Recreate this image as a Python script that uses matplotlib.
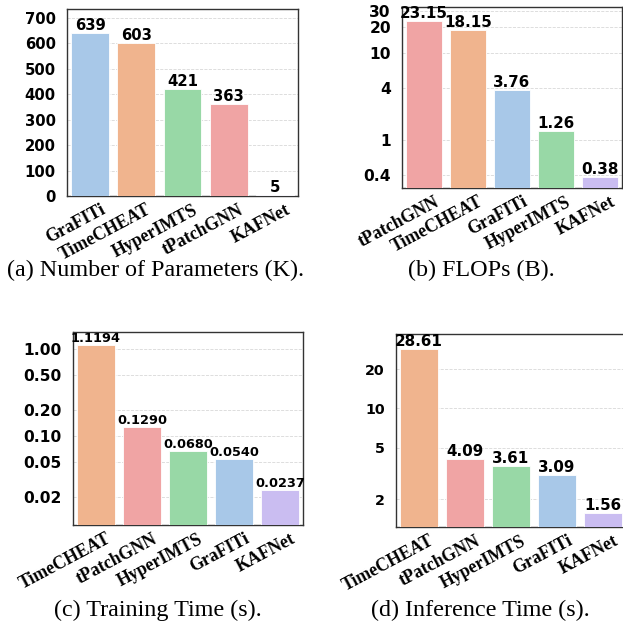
import numpy as np
import matplotlib.pyplot as plt
from matplotlib.ticker import FixedLocator, FixedFormatter, NullLocator
from matplotlib.transforms import ScaledTranslation

# model colours (same model -> same colour across panels)
colors = {
    'GraFITi': '#a8c8e8',
    'TimeCHEAT': '#f0b48e',
    'HyperIMTS': '#98d8a6',
    'tPatchGNN': '#f0a4a4',
    'KAFNet': '#cabdf1',
}

# (a) number of parameters (K)
params_models = ['GraFITi', 'TimeCHEAT', 'HyperIMTS', 'tPatchGNN', 'KAFNet']
params_values = [639, 603, 421, 363, 5]
params_labels = ['639', '603', '421', '363', '5']

# (b) FLOPs (B)
flops_models = ['tPatchGNN', 'TimeCHEAT', 'GraFITi', 'HyperIMTS', 'KAFNet']
flops_values = [23.15, 18.15, 3.76, 1.26, 0.38]
flops_labels = ['23.15', '18.15', '3.76', '1.26', '0.38']

# (c) training time (s)
train_models = ['TimeCHEAT', 'tPatchGNN', 'HyperIMTS', 'GraFITi', 'KAFNet']
train_values = [1.1194, 0.1290, 0.0680, 0.0540, 0.0237]
train_labels = ['1.1194', '0.1290', '0.0680', '0.0540', '0.0237']

# (d) inference time (s)
infer_models = ['TimeCHEAT', 'tPatchGNN', 'HyperIMTS', 'GraFITi', 'KAFNet']
infer_values = [28.61, 4.09, 3.61, 3.09, 1.56]
infer_labels = ['28.61', '4.09', '3.61', '3.09', '1.56']

W, H = 623, 639
fig = plt.figure(figsize=(W / 100, H / 100), dpi=100)


def px_axes(left, top, right, bottom):
    return fig.add_axes([left / W, 1 - bottom / H, (right - left) / W, (bottom - top) / H])


def panel(ax, models, values, labels, ylim, log, ticks, ticklabels, label_size, ytick_size):
    x = np.arange(len(models))
    ax.bar(x, values, width=0.82, color=[colors[m] for m in models],
           edgecolor='white', linewidth=0.6, zorder=3)
    for xi, v, lab in zip(x, values, labels):
        ax.text(xi, v, lab, ha='center', va='bottom', fontsize=label_size,
                fontweight='bold', family='DejaVu Sans', zorder=4)
    if log:
        ax.set_yscale('log')
    ax.set_ylim(*ylim)
    ax.set_xlim(-0.5, len(models) - 0.5)
    ax.yaxis.set_major_locator(FixedLocator(ticks))
    ax.yaxis.set_major_formatter(FixedFormatter(ticklabels))
    ax.yaxis.set_minor_locator(NullLocator())
    ax.tick_params(axis='both', length=0)
    ax.tick_params(axis='y', pad=8)
    ax.tick_params(axis='x', pad=4)
    ax.set_xticks(x)
    ax.set_xticklabels(models, rotation=28, ha='right', rotation_mode='anchor',
                       fontsize=12.8, fontweight='bold', family='Liberation Serif')
    # labels sit a little to the right of the bar centres in the original
    shift = ScaledTranslation(0.10, 0, fig.dpi_scale_trans)
    for lab in ax.get_xticklabels():
        lab.set_transform(lab.get_transform() + shift)
    for lab in ax.get_yticklabels():
        lab.set_fontweight('bold')
        lab.set_fontsize(ytick_size)
    ax.grid(axis='y', color='#d8d8d8', linestyle='--', linewidth=0.6, zorder=0)
    for s in ax.spines.values():
        s.set_color('#333333')
        s.set_linewidth(1.0)


ax_a = px_axes(67, 9, 298, 196)
panel(ax_a, params_models, params_values, params_labels, (0, 735), False,
      [0, 100, 200, 300, 400, 500, 600, 700],
      ['0', '100', '200', '300', '400', '500', '600', '700'], 10.7, 10.7)

ax_b = px_axes(402, 7, 622, 188)
panel(ax_b, flops_models, flops_values, flops_labels, (0.283, 33.5), True,
      [0.4, 1, 4, 10, 20, 30], ['0.4', '1', '4', '10', '20', '30'], 10.9, 11.2)

ax_c = px_axes(73, 332, 303, 525)
panel(ax_c, train_models, train_values, train_labels, (0.0095, 1.58), True,
      [0.02, 0.05, 0.1, 0.2, 0.5, 1.0],
      ['0.02', '0.05', '0.10', '0.20', '0.50', '1.00'], 9.3, 11.2)

ax_d = px_axes(396, 334, 626, 527)
panel(ax_d, infer_models, infer_values, infer_labels, (1.22, 37.5), True,
      [2, 5, 10, 20], ['2', '5', '10', '20'], 10.9, 10.3)

cap = dict(ha='center', va='center', fontsize=17.4, family='Liberation Serif')
fig.text(156 / W, 1 - 270 / H, '(a) Number of Parameters (K).', **cap)
fig.text(481 / W, 1 - 270 / H, '(b) FLOPs (B).', **cap)
fig.text(158 / W, 1 - 610 / H, '(c) Training Time (s).', **cap)
fig.text(480 / W, 1 - 610 / H, '(d) Inference Time (s).', **cap)

fig.savefig('out.png', dpi=100)
